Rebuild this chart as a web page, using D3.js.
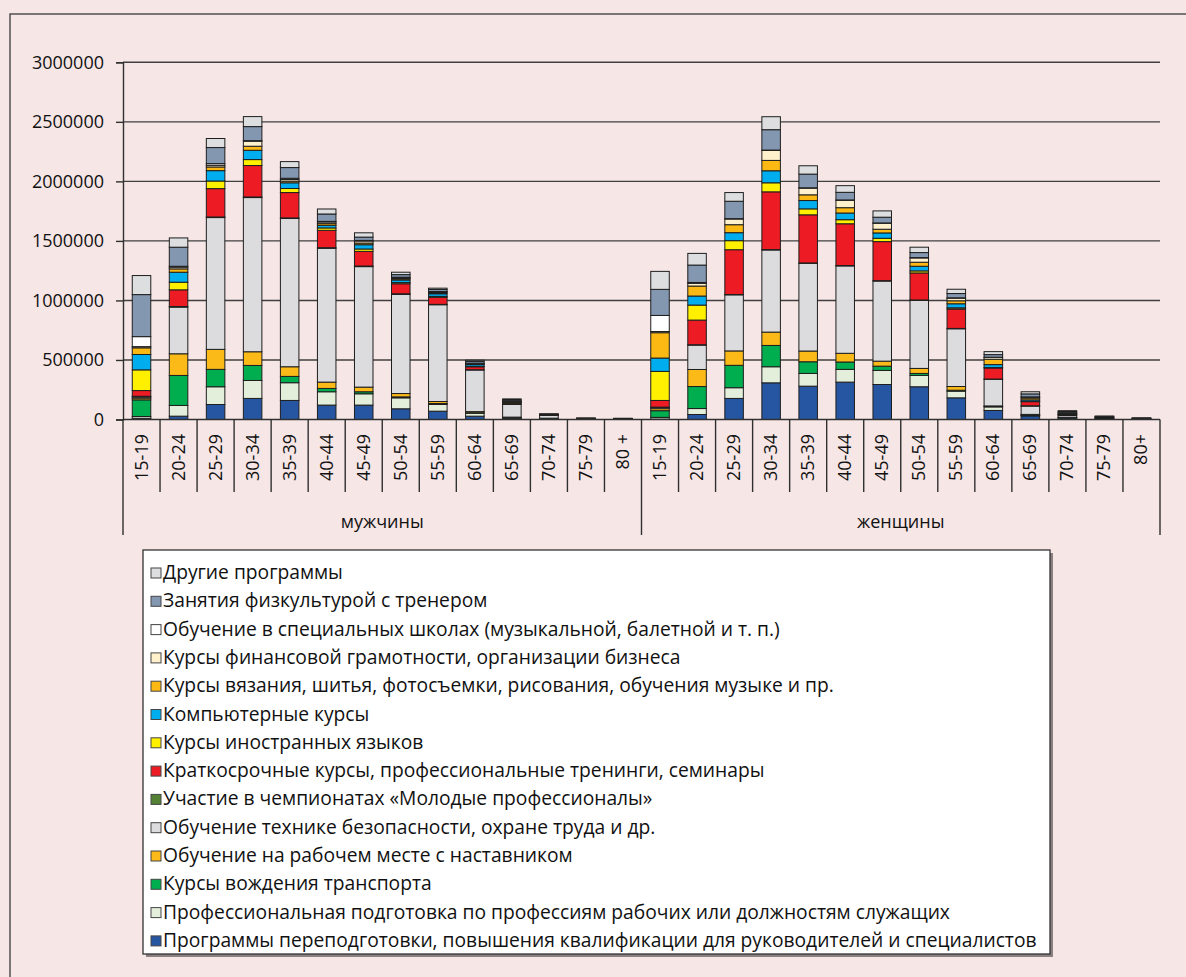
<!DOCTYPE html>
<html>
<head>
<meta charset="utf-8">
<script src="https://cdnjs.cloudflare.com/ajax/libs/d3/7.8.5/d3.min.js"></script>
<style>
  body { margin: 0; background: #f6e6e6; }
  svg { display: block; font-family: "Open Sans", "Liberation Sans", sans-serif; }
</style>
</head>
<body>
<div id="chart"></div>
<script>

// age groups, repeated for men and women
var ages = ["15-19","20-24","25-29","30-34","35-39","40-44","45-49","50-54","55-59","60-64","65-69","70-74","75-79","80 +"];
var agesW = ["15-19","20-24","25-29","30-34","35-39","40-44","45-49","50-54","55-59","60-64","65-69","70-74","75-79","80+"];
var groups = ["мужчины", "женщины"];

var yTicks = [0, 500000, 1000000, 1500000, 2000000, 2500000, 3000000];

// series names, bottom of the stack first
var seriesNames = [
  "Программы переподготовки, повышения квалификации для руководителей и специалистов",
  "Профессиональная подготовка по профессиям рабочих или должностям служащих",
  "Курсы вождения транспорта",
  "Обучение на рабочем месте с наставником",
  "Обучение технике безопасности, охране труда и др.",
  "Участие в чемпионатах «Молодые профессионалы»",
  "Краткосрочные курсы, профессиональные тренинги, семинары",
  "Курсы иностранных языков",
  "Компьютерные курсы",
  "Курсы вязания, шитья, фотосъемки, рисования, обучения музыке и пр.",
  "Курсы  финансовой грамотности, организации бизнеса",
  "Обучение в специальных школах (музыкальной, балетной и т. п.)",
  "Занятия физкультурой с тренером",
  "Другие программы"
];
var seriesColors = ["#2656a2","#e3efda","#00ad4f","#fbba17","#dcdcde","#548235","#ed1c24",
                    "#fff000","#00aeef","#fdb913","#fff1cc","#ffffff","#8497b0","#dddee0"];

// values in thousands of persons: 14 men age groups, then 14 women age groups
var retraining  = [10,28,126,177,160,121,121,90,70,28,10,5,1,1,      3,42,177,308,280,314,294,275,182,76,30,12,4,2];
var profTrain   = [15,90,149,151,149,112,95,92,56,25,5,3,1,1,        15,50,90,135,107,107,118,95,56,30,5,3,2,1];
var driving     = [140,252,146,126,53,28,17,8,8,3,2,1,0,0,           56,185,188,179,98,62,36,17,8,3,3,1,0,0];
var onJob       = [15,182,168,115,81,53,39,28,17,10,3,2,1,0,         17,143,121,112,90,73,42,42,31,5,5,2,1,0];
var safety      = [10,392,1107,1295,1245,1124,1012,833,813,350,107,25,5,4, 10,205,471,690,737,734,673,572,485,224,70,15,6,3];
var championats = [5,5,5,5,5,5,5,5,3,2,2,0,0,0,                      3,3,3,3,3,3,3,3,3,2,2,0,0,0];
var shortCourse = [48,140,238,264,213,146,123,84,59,25,8,2,0,0,      56,207,376,485,404,351,328,227,163,93,35,8,2,1];
var languages   = [174,64,64,50,34,20,20,10,8,3,3,1,0,0,             244,126,76,76,50,34,28,17,10,3,3,1,0,0];
var computer    = [129,84,87,78,48,22,36,22,22,15,5,1,1,1,           112,76,67,101,70,56,45,39,34,25,12,4,2,1];
var hobby       = [56,28,31,34,14,14,14,10,8,5,5,2,1,1,              213,84,67,87,48,45,31,34,25,45,15,8,4,2];
var finance     = [10,14,14,42,14,14,17,8,8,5,3,1,0,0,               10,22,48,84,56,62,50,36,22,15,8,2,1,0];
var specSchool  = [84,8,14,5,10,5,5,5,3,2,2,0,0,0,                   135,8,3,3,3,3,3,3,3,2,2,0,0,0];
var fitness     = [353,160,135,118,90,62,28,22,17,15,10,3,1,1,       219,146,146,171,115,64,48,42,36,22,25,10,4,2];
var other       = [160,78,76,84,50,42,36,20,11,10,8,2,1,1,           151,98,73,109,70,56,53,45,36,25,18,8,3,2];

var seriesValues = [retraining, profTrain, driving, onJob, safety, championats, shortCourse,
                    languages, computer, hobby, finance, specSchool, fitness, other];

var width = 1186, height = 977;
// plot box (note: "top" is reserved on window, so use other names)
var plotLeft = 123, plotRight = 1160, plotTop = 62.3, plotBottom = 419.5;

var svg = d3.select("#chart").append("svg").attr("width", width).attr("height", height);

// outer frame
svg.append("rect").attr("x", 0).attr("y", 0).attr("width", width).attr("height", height).attr("fill", "#f6e6e6");
svg.append("rect").attr("x", 10).attr("y", 14).attr("width", 1200).attr("height", 1000)
   .attr("fill", "none").attr("stroke", "#3a3a3a").attr("stroke-width", 1.3);

// table: one row per bar
var labels = ages.concat(agesW);
var keys = seriesNames.map(function(d, i) { return "s" + i; });
var table = labels.map(function(lab, j) {
  var row = { idx: j, label: lab };
  seriesValues.forEach(function(arr, i) { row["s" + i] = arr[j] * 1000; });
  return row;
});

var stack = d3.stack().keys(keys)(table);

var x = d3.scaleBand().domain(d3.range(labels.length)).range([plotLeft, plotRight])
          .paddingInner(0.5).paddingOuter(0.25);
var y = d3.scaleLinear().domain([0, 3000000]).range([plotBottom, plotTop]);

// gridlines
svg.append("g").selectAll("line").data(yTicks.filter(function(d) { return d > 0; }))
   .enter().append("line")
   .attr("x1", plotLeft).attr("x2", plotRight)
   .attr("y1", function(d) { return y(d); }).attr("y2", function(d) { return y(d); })
   .attr("stroke", "#404040").attr("stroke-width", 1.4);

// y axis
var yAxis = svg.append("g").attr("transform", "translate(" + plotLeft + ",0)")
   .call(d3.axisLeft(y).tickValues(yTicks).tickSize(7).tickPadding(12).tickFormat(d3.format("d")));
yAxis.select(".domain").attr("stroke", "#303030").attr("stroke-width", 1.4);
yAxis.selectAll(".tick line").attr("stroke", "#303030").attr("stroke-width", 1.4);
yAxis.selectAll("text").attr("font-size", 18).attr("fill", "#111")
     .attr("font-family", "'Open Sans', sans-serif");

// bars
var layers = svg.append("g").selectAll("g").data(stack).enter().append("g")
   .attr("fill", function(d, i) { return seriesColors[i]; });

layers.selectAll("rect").data(function(d) { return d; }).enter().append("rect")
   .attr("x", function(d) { return x(d.data.idx); })
   .attr("width", x.bandwidth())
   .attr("y", function(d) { return y(d[1]); })
   .attr("height", function(d) { return Math.max(0, y(d[0]) - y(d[1])); })
   .attr("stroke", "#1e1e1e").attr("stroke-width", 1);

// x axis line
svg.append("line").attr("x1", plotLeft).attr("x2", plotRight).attr("y1", plotBottom).attr("y2", plotBottom)
   .attr("stroke", "#303030").attr("stroke-width", 1.4);

// category separators
var step = x.step();
var seps = d3.range(labels.length + 1);
svg.append("g").selectAll("line").data(seps).enter().append("line")
   .attr("x1", function(i) { return plotLeft + i * step; })
   .attr("x2", function(i) { return plotLeft + i * step; })
   .attr("y1", plotBottom)
   .attr("y2", function(i) { return (i % 14 === 0) ? 535 : 492; })
   .attr("stroke", "#303030").attr("stroke-width", 1.4);

// category labels, rotated
svg.append("g").selectAll("text").data(table).enter().append("text")
   .attr("transform", function(d) {
     return "translate(" + (x(d.idx) + x.bandwidth() / 2 + 6) + ",434) rotate(-90)";
   })
   .attr("text-anchor", "end")
   .attr("font-size", 18).attr("fill", "#111")
   .text(function(d) { return d.label; });

// group labels
svg.append("g").selectAll("text").data(groups).enter().append("text")
   .attr("x", function(d, i) { return plotLeft + (i * 14 + 7) * step; })
   .attr("y", 528)
   .attr("text-anchor", "middle")
   .attr("font-size", 18).attr("fill", "#111")
   .text(function(d) { return d; });

// legend
var lgX = 143, lgY = 550, lgW = 907, lgH = 404;
svg.append("rect").attr("x", lgX + 3).attr("y", lgY + 3).attr("width", lgW).attr("height", lgH)
   .attr("fill", "#8a8080");
svg.append("rect").attr("x", lgX).attr("y", lgY).attr("width", lgW).attr("height", lgH)
   .attr("fill", "#ffffff").attr("stroke", "#333").attr("stroke-width", 1.3);

var legendOrder = d3.range(seriesNames.length).reverse();
var lg = svg.append("g").selectAll("g").data(legendOrder).enter().append("g")
   .attr("transform", function(d, k) { return "translate(" + 151 + "," + (573 + k * 28.3) + ")"; });

lg.append("rect").attr("x", 0).attr("y", -5).attr("width", 10).attr("height", 10)
  .attr("fill", function(i) { return seriesColors[i]; })
  .attr("stroke", "#444").attr("stroke-width", 1);

var lgText = lg.append("text").attr("x", 12).attr("y", 6)
  .attr("font-size", 17).attr("fill", "#111")
  .text(function(i) { return seriesNames[i]; });

// fit legend text to the reference width of the longest entry
var longest = d3.max(lgText.nodes(), function(n) { return n.getComputedTextLength(); });
var fs = 17 * 874 / longest;
lgText.attr("font-size", fs);

</script>
</body>
</html>
